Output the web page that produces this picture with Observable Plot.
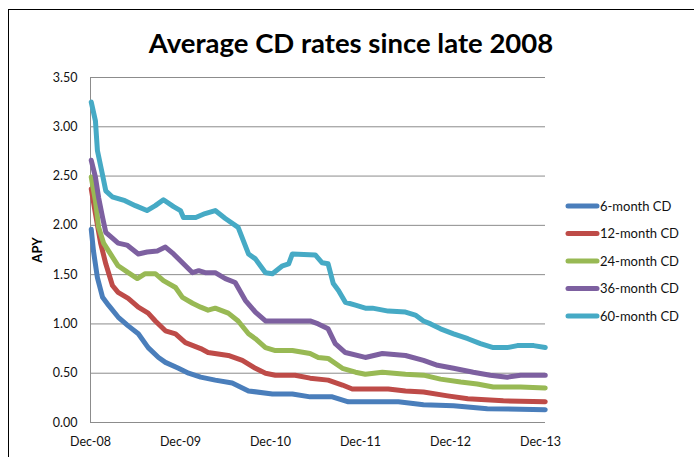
<!DOCTYPE html>
<html>
<head>
<meta charset="utf-8">
<script src="https://cdn.jsdelivr.net/npm/d3@7"></script>
<script src="https://cdn.jsdelivr.net/npm/@observablehq/plot@0.6"></script>
<style>
  html, body { margin: 0; padding: 0; background: #fff; }
  #wrap { position: relative; width: 694px; height: 457px; overflow: hidden; }
  #frame { position: absolute; left: 8px; top: 9px; width: 800px; height: 600px;
           border-left: 1px solid #000; border-top: 1px solid #000; }
  #chart { position: absolute; left: 0; top: 0; }
</style>
</head>
<body>
<div id="wrap"><div id="frame"></div><div id="chart"></div></div>
<script>
const title = "Average CD rates since late 2008";
const yLabel = "APY";
const seriesNames = ["6-month CD", "12-month CD", "24-month CD", "36-month CD", "60-month CD"];
const seriesColors = ["#4A7EBB", "#BE4B48", "#98B954", "#7D60A0", "#46AAC5"];
const yTicks = [0, 0.5, 1, 1.5, 2, 2.5, 3, 3.5];
const xTickDates = ["2008-12-01", "2009-12-01", "2010-12-01", "2011-12-01", "2012-12-01", "2013-12-01"];
const xTickLabels = ["Dec-08", "Dec-09", "Dec-10", "Dec-11", "Dec-12", "Dec-13"];
const xDomain = ["2008-12-01", "2013-12-21"];

const cd6 = [
["2008-12-04",1.96],["2008-12-13",1.74],["2008-12-29",1.47],["2009-01-19",1.27],["2009-02-12",1.19],
["2009-03-23",1.07],["2009-05-03",0.98],["2009-06-13",0.90],["2009-07-23",0.76],["2009-09-03",0.66],
["2009-10-01",0.61],["2009-11-23",0.55],["2010-01-03",0.50],["2010-02-21",0.46],["2010-04-21",0.43],
["2010-06-29",0.40],["2010-09-03",0.32],["2010-12-09",0.29],["2011-02-28",0.29],["2011-05-11",0.26],
["2011-08-09",0.26],["2011-10-13",0.21],["2012-05-03",0.21],["2012-08-13",0.18],["2012-12-13",0.17],
["2013-04-29",0.14],["2013-12-20",0.13]
];
const cd12 = [
["2008-12-04",2.37],["2008-12-21",2.12],["2009-01-11",1.82],["2009-02-01",1.61],["2009-02-28",1.39],
["2009-03-23",1.32],["2009-05-03",1.26],["2009-06-13",1.17],["2009-07-23",1.11],["2009-08-21",1.03],
["2009-10-01",0.93],["2009-11-11",0.90],["2009-12-21",0.81],["2010-02-21",0.75],["2010-03-23",0.71],
["2010-06-13",0.68],["2010-08-09",0.63],["2010-10-01",0.55],["2010-11-11",0.50],["2010-12-21",0.48],
["2011-03-11",0.48],["2011-05-11",0.45],["2011-07-23",0.43],["2011-09-19",0.38],["2011-10-29",0.34],
["2012-03-23",0.34],["2012-06-01",0.32],["2012-08-13",0.31],["2012-11-19",0.27],["2013-02-09",0.24],
["2013-07-03",0.22],["2013-12-20",0.21]
];
const cd24 = [
["2008-12-04",2.49],["2008-12-21",2.25],["2009-01-03",1.98],["2009-01-23",1.82],["2009-02-20",1.71],
["2009-03-23",1.59],["2009-05-03",1.52],["2009-06-09",1.46],["2009-07-11",1.51],["2009-08-21",1.51],
["2009-09-23",1.44],["2009-11-11",1.37],["2009-12-09",1.27],["2010-01-19",1.21],["2010-02-21",1.17],
["2010-03-23",1.14],["2010-04-21",1.16],["2010-06-13",1.11],["2010-07-23",1.03],["2010-09-03",0.90],
["2010-10-01",0.85],["2010-11-11",0.76],["2010-12-21",0.73],["2011-02-28",0.73],["2011-05-11",0.70],
["2011-06-13",0.66],["2011-07-23",0.65],["2011-09-19",0.55],["2011-11-11",0.51],["2011-12-21",0.49],
["2012-02-28",0.51],["2012-06-01",0.49],["2012-08-13",0.48],["2012-10-21",0.44],["2013-01-11",0.41],
["2013-03-19",0.39],["2013-05-23",0.36],["2013-09-11",0.36],["2013-12-20",0.35]
];
const cd36 = [
["2008-12-04",2.66],["2008-12-21",2.49],["2009-01-03",2.28],["2009-01-19",2.08],["2009-02-01",1.93],
["2009-02-28",1.87],["2009-03-23",1.82],["2009-04-28",1.80],["2009-06-13",1.71],["2009-07-19",1.73],
["2009-08-29",1.74],["2009-10-01",1.78],["2009-11-03",1.71],["2009-12-09",1.62],["2010-01-19",1.52],
["2010-02-13",1.54],["2010-03-11",1.52],["2010-04-21",1.52],["2010-06-01",1.46],["2010-07-11",1.42],
["2010-08-21",1.24],["2010-10-01",1.12],["2010-11-11",1.03],["2011-05-11",1.03],["2011-06-13",1.00],
["2011-07-23",0.95],["2011-08-21",0.80],["2011-10-01",0.71],["2011-12-21",0.66],["2012-02-28",0.70],
["2012-06-01",0.68],["2012-08-13",0.63],["2012-10-09",0.58],["2012-12-13",0.55],["2013-03-03",0.51],
["2013-05-11",0.48],["2013-07-19",0.46],["2013-09-11",0.48],["2013-12-20",0.48]
];
const cd60 = [
["2008-12-04",3.25],["2008-12-21",3.06],["2008-12-29",2.76],["2009-01-18",2.52],["2009-02-01",2.35],
["2009-02-27",2.29],["2009-04-20",2.25],["2009-06-01",2.20],["2009-07-18",2.15],["2009-08-21",2.20],
["2009-09-23",2.26],["2009-11-03",2.19],["2009-12-01",2.15],["2009-12-13",2.08],["2010-02-01",2.08],
["2010-03-11",2.12],["2010-04-21",2.15],["2010-06-01",2.07],["2010-07-23",1.98],["2010-09-03",1.71],
["2010-10-01",1.66],["2010-11-11",1.52],["2010-12-09",1.51],["2011-01-19",1.59],["2011-02-13",1.61],
["2011-02-28",1.71],["2011-06-01",1.70],["2011-06-29",1.62],["2011-07-23",1.61],["2011-08-13",1.41],
["2011-09-03",1.34],["2011-10-01",1.22],["2011-11-11",1.19],["2011-12-21",1.16],["2012-01-19",1.16],
["2012-03-23",1.13],["2012-06-01",1.12],["2012-07-11",1.09],["2012-08-13",1.03],["2012-09-11",1.00],
["2012-10-21",0.95],["2012-12-13",0.90],["2013-02-09",0.85],["2013-04-01",0.80],["2013-05-23",0.76],
["2013-07-19",0.76],["2013-08-29",0.78],["2013-11-03",0.78],["2013-12-20",0.76]
];

const parse = d3.utcParse("%Y-%m-%d");
const seriesData = [cd6, cd12, cd24, cd36, cd60];
const data = seriesData.flatMap((arr, i) =>
  arr.map(([d, v]) => ({ series: seriesNames[i], date: parse(d), apy: v })));
const xTicks = xTickDates.map(parse);
const labelOf = new Map(xTicks.map((d, i) => [+d, xTickLabels[i]]));

const FONT = "Lato, 'DejaVu Sans', sans-serif";

const chart = Plot.plot({
  width: 694, height: 457,
  marginLeft: 90, marginRight: 149, marginTop: 77, marginBottom: 35,
  style: { fontFamily: FONT, fontSize: "12.5px", color: "#111", background: "transparent", overflow: "visible" },
  x: { type: "utc", domain: xDomain.map(parse) },
  y: { domain: [0, 3.5] },
  color: { domain: seriesNames, range: seriesColors },
  marks: [
    Plot.ruleY(yTicks, { stroke: "#8c8c8c", strokeWidth: 1 }),
    Plot.ruleX([parse(xDomain[0])], { stroke: "#8c8c8c", strokeWidth: 1 }),
    Plot.axisY({ ticks: yTicks, tickFormat: d => d.toFixed(2), tickSize: 0, tickPadding: 13, label: null }),
    Plot.axisX({ ticks: xTicks, tickFormat: d => labelOf.get(+d), tickSize: 0, tickPadding: 15, label: null }),
    Plot.lineY(data, { x: "date", y: "apy", z: "series", stroke: "series",
      strokeWidth: 5, strokeLinejoin: "round", strokeLinecap: "round" })
  ]
});
document.getElementById("chart").appendChild(chart);

const svg = d3.select(chart);
// Title
svg.append("text").attr("x", 351).attr("y", 53).attr("text-anchor", "middle")
  .attr("font-family", FONT).attr("font-weight", "bold").attr("font-size", 27.5)
  .attr("fill", "#000").text(title);
// Y axis title
svg.append("text").attr("transform", "translate(42,250) rotate(-90)").attr("text-anchor", "middle")
  .attr("font-family", FONT).attr("font-weight", "bold").attr("font-size", 13)
  .attr("fill", "#000").text(yLabel);
// Legend
const lg = svg.append("g").attr("text-anchor", "start");
seriesNames.forEach((name, i) => {
  const cy = 206 + i * 27.5;
  lg.append("line").attr("x1", 568).attr("x2", 597).attr("y1", cy).attr("y2", cy)
    .attr("stroke", seriesColors[i]).attr("stroke-width", 5).attr("stroke-linecap", "round");
  lg.append("text").attr("x", 600).attr("y", cy).attr("dy", "0.35em").attr("text-anchor", "start")
    .attr("font-family", FONT).attr("font-size", 13).attr("fill", "#111").text(name);
});
</script>
</body>
</html>
